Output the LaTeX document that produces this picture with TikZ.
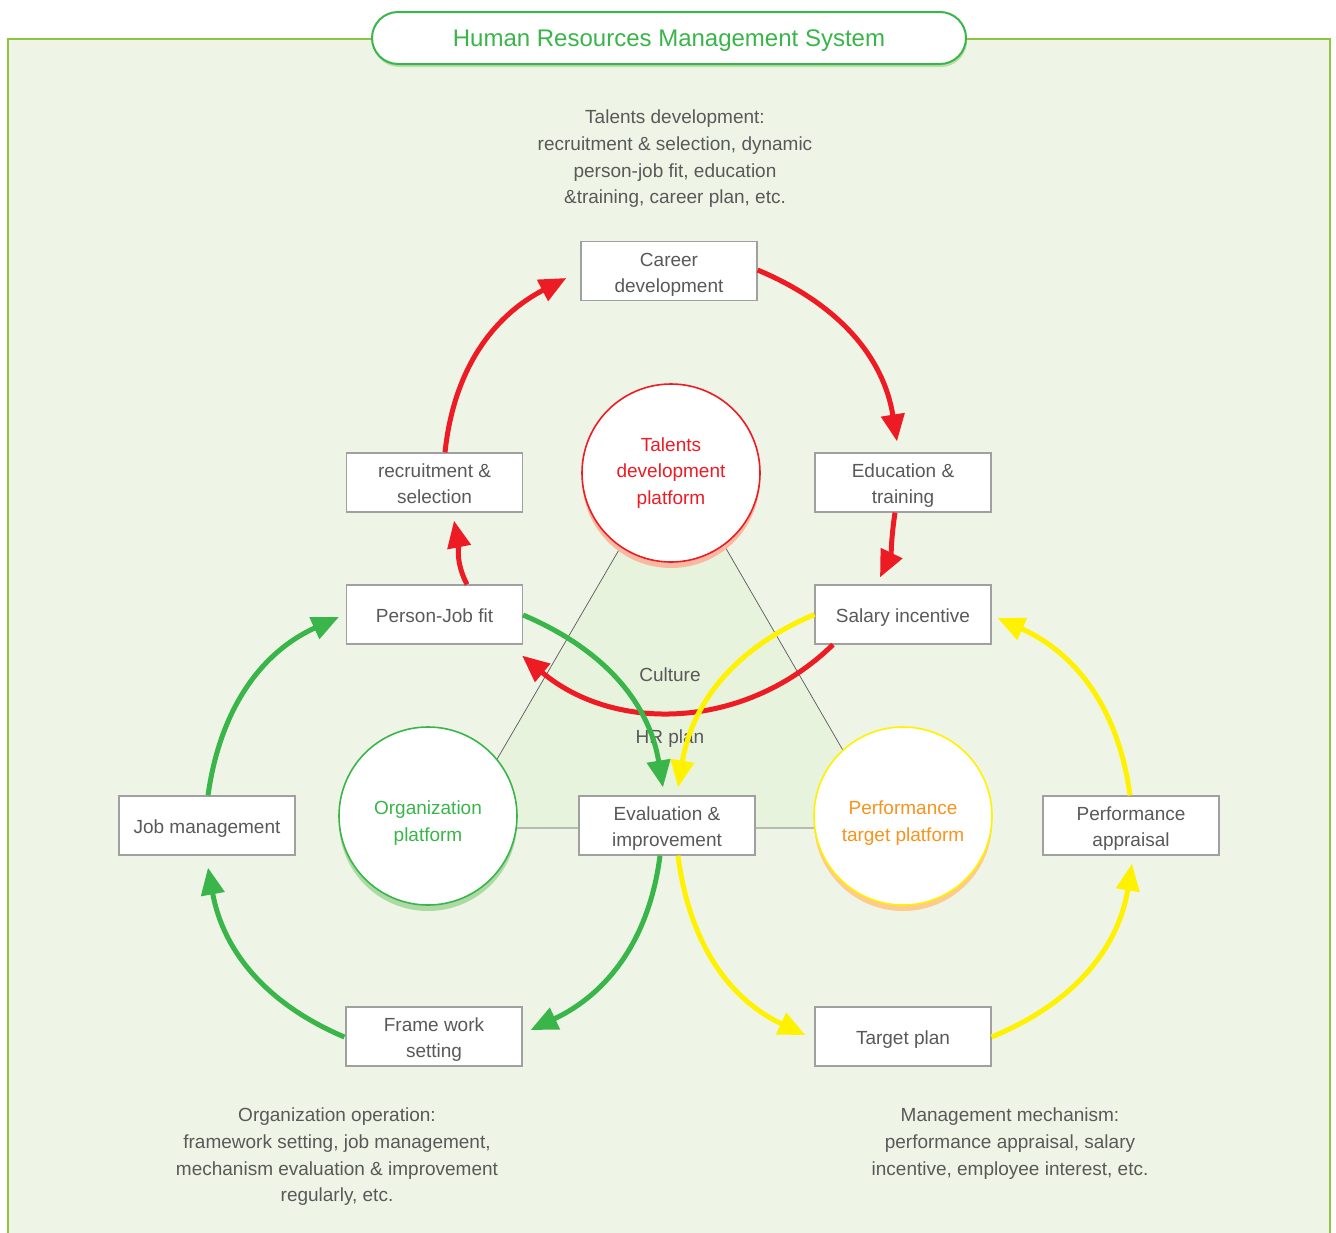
\documentclass[tikz,border=0pt]{standalone}
\usepackage{fontspec}
\setmainfont{Liberation Sans}
\usetikzlibrary{arrows.meta,calc}
\definecolor{bgc}{HTML}{EEF5E6}
\definecolor{trif}{HTML}{E8F3DD}
\definecolor{frm}{HTML}{8CC63F}
\definecolor{grn}{HTML}{39B54A}
\definecolor{rd}{HTML}{ED1C24}
\definecolor{yl}{HTML}{FFF200}
\definecolor{orng}{HTML}{F7941D}
\definecolor{txt}{HTML}{595959}
\definecolor{bxb}{HTML}{A0A0A0}
\definecolor{shR}{HTML}{F9B9A0}
\definecolor{shG}{HTML}{ABDBA3}
\definecolor{shY}{HTML}{FDCB8E}
\definecolor{shT}{HTML}{B9E0A8}
\begin{document}
\begin{tikzpicture}[x=1pt,y=-1pt,
  box/.style={draw=bxb, line width=1.2pt, fill=white, minimum width=176pt, minimum height=59pt,
    align=center, text=txt, font=\fontsize{19}{26}\selectfont, inner sep=0pt,
    text depth=0pt, text height=15pt},
  box2/.style={box, text height=42pt},
  plat/.style={circle, fill=white, line width=1.6pt, minimum size=178pt, inner sep=0pt,
    align=center, font=\fontsize{19}{26.5}\selectfont},
  plat2/.style={plat, font=\fontsize{19}{27}\selectfont, text depth=0pt, text height=50pt},
  platsh/.style={circle, minimum size=178pt, inner sep=0pt, draw=none},
  desc/.style={align=center, text=txt, font=\fontsize{19}{26.7}\selectfont},
  arr/.style={line width=5pt, -{Triangle[length=27pt,width=23pt]}},
]
\useasboundingbox (0,0) rectangle (1336,1232);
\fill[white] (0,0) rectangle (1336,1232);
% frame
\draw[frm, line width=1.5pt, fill=bgc] (8,39) rectangle (1330,1260);
% title
\node[draw=none, fill=shT, rounded corners=26pt, minimum width=594pt, minimum height=52pt] (titlesh) at (670,41) {};
\node[draw=grn, line width=2pt, fill=white, rounded corners=26pt, minimum width=594pt, minimum height=52pt,
  text=grn, font=\fontsize{24}{28}\selectfont, text height=17.2pt, text depth=0pt] (title) at (669,38) {Human Resources Management System};
% triangle
\coordinate (ta) at (673,457);
\coordinate (tl) at (457,828);
\coordinate (tr) at (888,828);
\filldraw[fill=trif, draw=black!65, line width=0.7pt] (ta) -- (tl) -- (tr) -- cycle;
% descriptions
\node[desc] (dtop) at (675,159) {Talents development:\\recruitment \& selection, dynamic\\person-job fit, education\\\&training, career plan, etc.};
\node[desc] (dbl) at (337,1157) {Organization operation:\\framework setting, job management,\\mechanism evaluation \& improvement\\regularly, etc.};
\node[desc] (dbr) at (1010,1143.5) {Management mechanism:\\performance appraisal, salary\\incentive, employee interest, etc.};
\node[desc] (cult) at (670,675) {Culture};
\node[desc] (hrp) at (670,738.5) {HR plan};
% platforms
\node[platsh, fill=shR] (talsh) at (671,479) {};
\node[platsh, fill=shG] (orgsh) at (428,822) {};
\node[platsh, fill=shY] (ptpsh) at (903,822) {};
\node[plat, draw=rd, text=rd] (tal) at (671,473) {Talents\\development\\platform};
\node[plat2, draw=grn, text=grn] (org) at (428,816) {Organization\\platform};
\node[plat2, draw=yl, text=orng] (ptp) at (903,816) {Performance\\target platform};
% boxes
\node[box2] (car) at (669,271) {Career\\development};
\node[box2] (rec) at (434.5,482.5) {recruitment \&\\selection};
\node[box2] (edu) at (903,482.5) {Education \&\\training};
\node[box] (pjf) at (434.5,614.5) {Person-Job fit};
\node[box] (sal) at (903,614.5) {Salary incentive};
\node[box] (job) at (207,825.5) {Job management};
\node[box2] (eva) at (667,825.5) {Evaluation \&\\improvement};
\node[box2] (pap) at (1131,825.5) {Performance\\appraisal};
\node[box2] (fws) at (434,1036.5) {Frame work\\setting};
\node[box] (tpl) at (903,1036.5) {Target plan};
% red arrows
\draw[arr, rd] ($(rec.north)+(10.5,0)$) to[out=84,in=207.5] ($(car.west)+(-14,7)$);
\draw[arr, rd] ($(car.east)+(0,-1)$) to[out=-22.7,in=99] ($(edu.north)+(-6,-11)$);
\draw[arr, rd] ($(edu.south)+(-8,0)$) to[out=-98.6,in=64.4] ($(sal.north)+(-23,-7)$);
\draw[arr, rd] ($(pjf.north)+(32.5,0)$) to[out=117.7,in=281] ($(rec.south)+(19.5,8)$);
\draw[arr, rd] ($(sal.south)+(-70,0)$) to[out=-135.7,in=-40] ($(pjf.south east)+(-1,11)$);
% green arrows
\draw[arr, grn] ($(job.north)+(1,0)$) to[out=82,in=204.4] ($(pjf.west)+(-7,2.5)$);
\draw[arr, grn] ($(pjf.east)+(0,0.5)$) to[out=-23,in=99.4] ($(eva.north)+(-4,-8)$);
\draw[arr, grn] ($(eva.south)+(-7,0)$) to[out=-97.3,in=25.2] ($(fws.east)+(8,-6.5)$);
\draw[arr, grn] ($(fws.west)+(-1,0.5)$) to[out=157,in=280.3] ($(job.south)+(1,12)$);
% yellow arrows
\draw[arr, yl] (sal.west) to[out=202.9,in=80.5] ($(eva.north)+(11,-8)$);
\draw[arr, yl] ($(eva.south)+(11,0)$) to[out=-82.7,in=154.9] ($(tpl.west)+(-9,-1.5)$);
\draw[arr, yl] ($(tpl.east)+(0,0.5)$) to[out=22.4,in=260.8] ($(pap.south)+(1,8)$);
\draw[arr, yl] ($(pap.north)+(-1,0)$) to[out=97.6,in=335.9] ($(sal.east)+(6,3.5)$);
\end{tikzpicture}
\end{document}
